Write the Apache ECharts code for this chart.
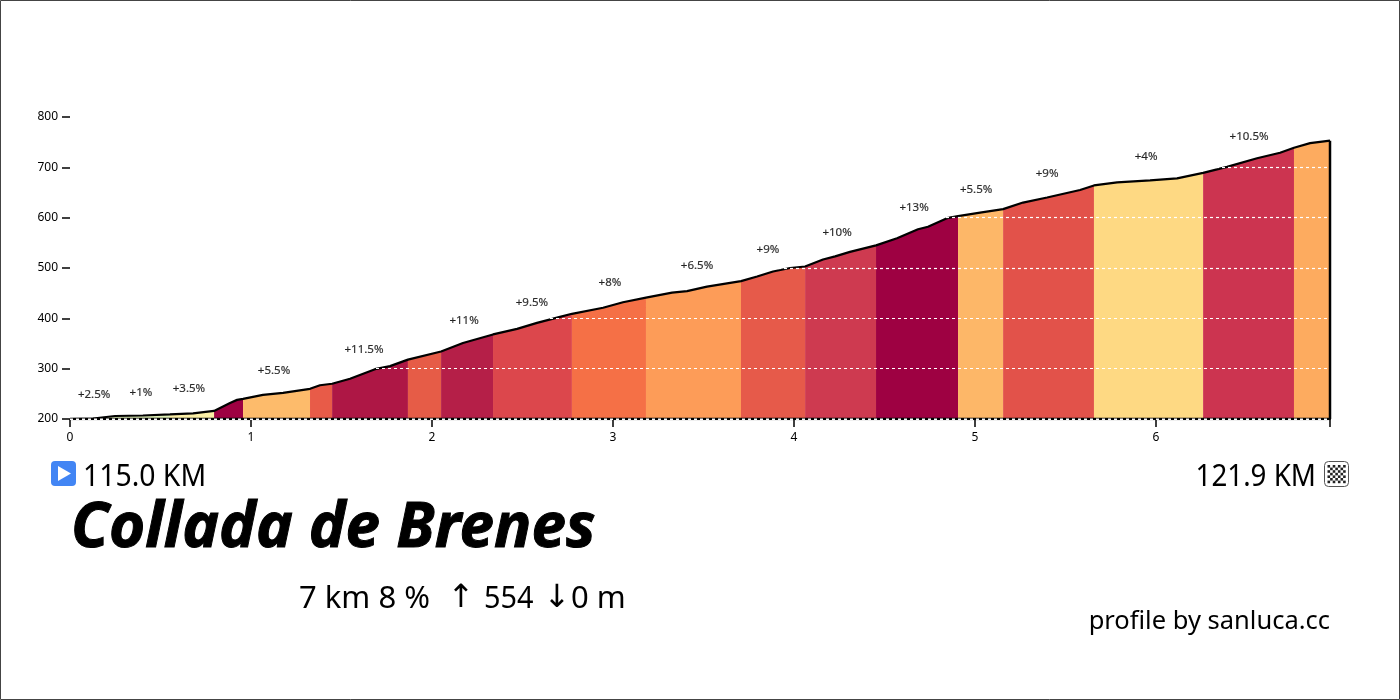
<!DOCTYPE html>
<html>
<head>
<meta charset="utf-8">
<style>
  html, body { margin: 0; padding: 0; background: #fff; }
  #chart { width: 1400px; height: 700px; }
</style>
<script src="https://cdn.jsdelivr.net/npm/echarts@6/dist/echarts.min.js"></script>
</head>
<body>
<div id="chart"></div>
<script>
// profile, km from the start and metres
const km = [0, 0.127, 0.249, 0.403, 0.552, 0.68, 0.796, 0.884, 0.923, 0.956, 1.066, 1.177, 1.326, 1.381, 1.448,
  1.547, 1.685, 1.768, 1.867, 2.05, 2.171, 2.249, 2.337, 2.47, 2.58, 2.707, 2.773, 2.945, 3.055, 3.182, 3.326,
  3.409, 3.519, 3.707, 3.796, 3.884, 3.978, 4.061, 4.16, 4.227, 4.309, 4.453, 4.569, 4.685, 4.74, 4.845, 4.906,
  5.028, 5.155, 5.265, 5.398, 5.58, 5.657, 5.785, 5.967, 6.116, 6.26, 6.392, 6.558, 6.685, 6.762, 6.851, 6.961];
const elevation = [200, 201, 206, 207, 209, 211, 216, 232, 238, 240, 248, 252, 260, 267, 270,
  280, 299, 305, 318, 334, 351, 359, 368, 379, 391, 403, 409, 421, 432, 441, 451,
  454, 463, 474, 483, 493, 500, 503, 517, 523, 532, 545, 559, 577, 582, 599, 603,
  610, 617, 630, 640, 655, 664, 670, 674, 678, 689, 701, 718, 729, 739, 748, 753];

// coloured stretches, each one ends where the next begins
const segmentEnds = [0.552, 0.796, 0.956, 1.326, 1.448, 1.867, 2.05, 2.337, 2.773, 3.182, 3.707, 4.061, 4.453, 4.906,
  5.155, 5.657, 6.26, 6.762, 6.961];
const segmentColors = ['#dff0b6', '#fbefa6', '#9e0142', '#fdbb6b', '#e85b48', '#ae1745', '#e65c47', '#b51f48', '#dc474c',
  '#f57046', '#fd9c58', '#e65a4a', '#ce3a50', '#9e0142', '#fdb768', '#e2524a', '#fed983', '#cc3450', '#fdab5f'];

// gradient labels above the profile
const gradeKm = [0.133, 0.392, 0.657, 1.127, 1.624, 2.177, 2.552, 2.983, 3.464, 3.856, 4.238, 4.663, 5.006, 5.398, 5.945, 6.514];
const gradeElev = [248, 252, 260, 295, 337, 395, 432, 470, 504, 536, 570, 619, 655, 687, 721, 760];
const gradeText = ['+2.5%', '+1%', '+3.5%', '+5.5%', '+11.5%', '+11%', '+9.5%', '+8%', '+6.5%', '+9%', '+10%', '+13%', '+5.5%', '+9%', '+4%', '+10.5%'];

// x ticks, the last one sits on the end of the climb
const xTicks = [0, 1, 2, 3, 4, 5, 6, 6.961];
const xLabels = [0, 1, 2, 3, 4, 5, 6];

const points = km.map((k, i) => [k, elevation[i]]);
const endKm = km[km.length - 1];
const FONT = '"Noto Sans", sans-serif';

const areaSeries = segmentEnds.map((end, i) => {
  const start = i === 0 ? 0 : segmentEnds[i - 1];
  return {
    type: 'line',
    data: points.filter(p => p[0] >= start && p[0] <= end),
    showSymbol: false,
    silent: true,
    lineStyle: { width: 0 },
    areaStyle: { color: segmentColors[i], opacity: 1 },
    z: 2
  };
});

// checkered flag box next to the end distance
const flagCells = [];
for (let r = 0; r < 7; r++) {
  for (let c = 0; c < 7; c++) {
    if ((r + c) % 2 === 0) {
      flagCells.push({
        type: 'rect',
        shape: { x: 1327.5 + c * 2.6, y: 465 + r * 2.6, width: 2.6, height: 2.6 },
        style: { fill: '#222' }
      });
    }
  }
}

const text = (x, y, str, size, extra, scaleX) => ({
  type: 'text',
  x: x,
  y: y,
  scaleX: scaleX || 1,
  style: Object.assign({ text: str, font: size + 'px ' + FONT, fill: '#000', textAlign: 'left', textVerticalAlign: 'middle' }, extra || {})
});
const ARROW = { font: '32px "DejaVu Sans", sans-serif' };

const chart = echarts.init(document.getElementById('chart'), null, { renderer: 'canvas' });
chart.setOption({
  animation: false,
  backgroundColor: '#fff',
  grid: { left: 70, right: 70, top: 117, bottom: 281 },
  xAxis: {
    type: 'value',
    min: 0,
    max: 6.961,
    interval: 1,
    splitLine: { show: false },
    axisLine: { show: false },
    axisTick: { show: true, length: 8, customValues: xTicks, lineStyle: { color: '#000', width: 1.5 } },
    axisLabel: { color: '#000', fontSize: 12, fontFamily: FONT, margin: 13, customValues: xLabels }
  },
  yAxis: {
    type: 'value',
    min: 200,
    max: 800,
    interval: 100,
    z: 5,
    axisLine: { show: false },
    axisTick: { show: true, length: 8, lineStyle: { color: '#000', width: 1.5 } },
    axisLabel: { color: '#000', fontSize: 12, fontFamily: FONT, margin: 12 },
    splitLine: { show: true, lineStyle: { color: '#fff', width: 1.2, type: [3, 3] } }
  },
  series: areaSeries.concat([
    {
      type: 'line',
      data: points,
      showSymbol: false,
      silent: true,
      lineStyle: { color: '#000', width: 2.2 },
      z: 3
    },
    {
      // baseline and closing edge of the profile
      type: 'line',
      data: [[0, 200], [endKm, 200], points[points.length - 1]],
      showSymbol: false,
      silent: true,
      lineStyle: { color: '#000', width: 2.5 },
      z: 3
    },
    {
      // white dashes running along the baseline
      type: 'line',
      data: [[0, 200], [endKm, 200]],
      showSymbol: false,
      silent: true,
      lineStyle: { color: '#fff', width: 1.2, type: [3, 3] },
      z: 4
    },
    {
      type: 'scatter',
      data: gradeKm.map((k, i) => [k, gradeElev[i]]),
      symbolSize: 1,
      itemStyle: { color: 'transparent' },
      silent: true,
      label: {
        show: true,
        position: 'inside',
        color: '#000',
        fontSize: 11.5,
        fontFamily: FONT,
        textBorderColor: '#000',
        textBorderWidth: 0.2,
        formatter: p => gradeText[p.dataIndex]
      },
      z: 6
    }
  ]),
  graphic: [
    { type: 'rect', shape: { x: 0.5, y: 0.5, width: 1399, height: 699 }, style: { fill: 'none', stroke: '#444', lineWidth: 1 } },
    { type: 'rect', shape: { x: 51, y: 461, width: 25, height: 25, r: 4 }, style: { fill: '#4285f4' } },
    { type: 'polygon', shape: { points: [[58, 466], [58, 481], [71, 473.5]] }, style: { fill: '#fff' } },
    text(83, 477, '115.0 KM', 30, null, 0.945),
    text(1316, 477, '121.9 KM', 30, { textAlign: 'right' }, 0.925),
    { type: 'rect', shape: { x: 1324.5, y: 461.5, width: 24, height: 25, r: 4 }, style: { fill: '#fff', stroke: '#555', lineWidth: 1 } },
    ...flagCells,
    text(71, 529, 'Collada de Brenes', 62, { font: 'italic bold 62px ' + FONT, stroke: '#000', lineWidth: 1 }),
    text(299, 599, '7 km 8 %', 31),
    text(447.6, 599, '↑', 32, ARROW),
    text(484, 599, '554', 31, null, 0.93),
    text(543.6, 599, '↓', 32, ARROW),
    text(571, 599, '0 m', 31),
    text(1330, 622, 'profile by sanluca.cc', 25.5, { textAlign: 'right' })
  ]
});
</script>
</body>
</html>
